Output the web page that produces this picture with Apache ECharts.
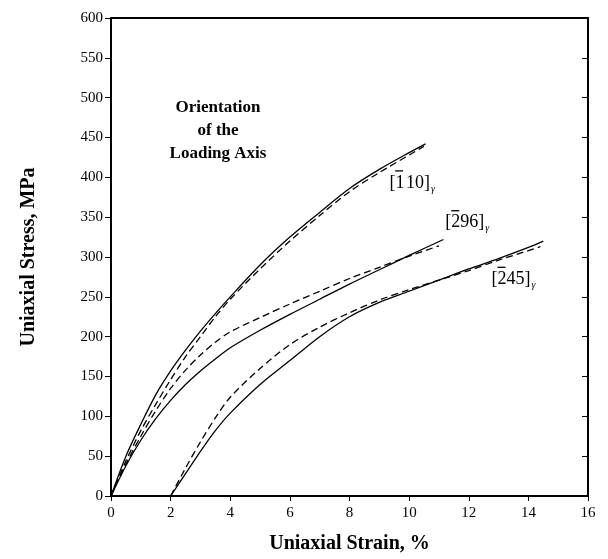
<!DOCTYPE html>
<html>
<head>
<meta charset="utf-8">
<script src="https://cdn.jsdelivr.net/npm/echarts@6/dist/echarts.min.js"></script>
<style>
  html, body { margin: 0; padding: 0; background: #fff; }
  #chart { width: 608px; height: 559px; }
</style>
</head>
<body>
<div id="chart"></div>
<script>
// strain (%) / stress (MPa) pairs
var s110Solid = [[0,0],[0.5,50],[1,90],[1.5,127],[2,157],[2.5,183],[3,207],[3.5,229],[4,250],[5,290],[6,325],[7,356],[8,386],[9,410],[10,431],[10.55,442]];
var s110Dash = [[0,0],[0.5,44],[1,82],[1.5,115],[2,146],[2.5,175],[3,200],[3.5,225],[4,247],[5,285],[6,320],[7,352],[8,382],[9,406],[10,428],[10.5,439]];
var s296Solid = [[0,0],[0.5,38],[1,70],[1.5,97],[2,120],[2.5,140],[3,157],[3.5,172],[4,186],[5,208],[6,228],[7,247],[8,266],[9,284],[10,302],[11.15,322]];
var s296Dash = [[0,0],[0.5,40],[1,75],[1.5,107],[2,135],[2.5,158],[3,177],[3.5,193],[4,206],[5,224],[6,241],[7,257],[8,273],[9,287],[10,301],[11,314]];
var s245Solid = [[2,0],[2.5,28],[3,56],[3.5,82],[4,104],[5,140],[6,170],[7,200],[8,225],[9,243],[10,257],[11,271],[12,285],[13,298],[14,312],[14.5,320]];
var s245Dash = [[2,0],[2.5,35],[3,68],[3.5,98],[4,124],[5,160],[6,190],[7,212],[8,230],[9,246],[10,259],[11,271],[12,283],[13,296],[14,308],[14.4,313]];

// orientation labels: overlined digit, rest
var orientLabels = [['1', '\u200a10]'], ['2', '96]'], ['2', '45]']];
var labelAt = [[10.1, 393], [11.95, 343], [13.5, 272]];

var serif = '"Liberation Serif", "DejaVu Serif", serif';

var myChart = echarts.init(document.getElementById('chart'));

function curve(data, dashed, idx) {
    var s = {
        type: 'line',
        data: data,
        smooth: 0.3,
        symbol: 'none',
        silent: true,
        lineStyle: { color: '#000', width: 1.3, type: dashed ? [7, 4] : 'solid' }
    };
    if (!dashed) {
        var lb = orientLabels[idx];
        s.markPoint = {
            symbol: 'circle',
            symbolSize: 0,
            silent: true,
            data: [{ coord: labelAt[idx] }],
            label: {
                show: true,
                position: 'inside',
                formatter: '{b|[' + lb[0] + lb[1] + '}{s|\u03b3}',
                rich: {
                    b: { fontFamily: serif, fontSize: 18, color: '#000' },
                    s: { fontFamily: serif, fontSize: 10, fontStyle: 'italic', color: '#000', padding: [12, 0, 0, 1] }
                }
            }
        };
    }
    return s;
}

myChart.setOption({
    animation: false,
    backgroundColor: '#fff',
    grid: { left: 111, right: 20, top: 18, bottom: 60 },
    xAxis: [{
        type: 'value',
        min: 0, max: 16, interval: 2,
        name: 'Uniaxial Strain, %',
        nameLocation: 'middle',
        nameGap: 38,
        nameTextStyle: { fontFamily: serif, fontSize: 20, fontWeight: 'bold', color: '#000' },
        axisLine: { onZero: false, lineStyle: { color: '#000', width: 2 } },
        axisTick: { length: 5, lineStyle: { color: '#000' } },
        axisLabel: { fontFamily: serif, fontSize: 15, color: '#000', margin: 10 },
        splitLine: { show: false }
    }, {
        type: 'value',
        position: 'top',
        min: 0, max: 16, interval: 2,
        axisLine: { show: true, onZero: false, lineStyle: { color: '#000', width: 2 } },
        axisTick: { show: false },
        axisLabel: { show: false },
        splitLine: { show: false }
    }],
    yAxis: [{
        type: 'value',
        min: 0, max: 600, interval: 50,
        name: 'Uniaxial Stress, MPa',
        nameLocation: 'middle',
        nameGap: 72,
        nameTextStyle: { fontFamily: serif, fontSize: 20, fontWeight: 'bold', color: '#000' },
        axisLine: { show: true, onZero: false, lineStyle: { color: '#000', width: 2 } },
        axisTick: { show: true, length: 6, lineStyle: { color: '#000' } },
        axisLabel: { fontFamily: serif, fontSize: 15, color: '#000', margin: 8 },
        splitLine: { show: false }
    }, {
        type: 'value',
        position: 'right',
        min: 0, max: 600, interval: 50,
        axisLine: { show: true, onZero: false, lineStyle: { color: '#000', width: 2 } },
        axisTick: { show: true, inside: true, length: 6, lineStyle: { color: '#000' } },
        axisLabel: { show: false },
        splitLine: { show: false }
    }],
    series: [
        curve(s110Solid, false, 0),
        curve(s110Dash, true, 0),
        curve(s296Solid, false, 1),
        curve(s296Dash, true, 1),
        curve(s245Solid, false, 2),
        curve(s245Dash, true, 2)
    ]
});

// caption text and overbars above the first digit of each orientation label
var graphics = [{
    id: 'orient',
    type: 'text',
    x: 218,
    y: 96,
    style: {
        text: 'Orientation\nof the\nLoading Axis',
        align: 'center',
        font: 'bold 17px ' + serif,
        lineHeight: 23,
        fill: '#000'
    }
}];
labelAt.forEach(function (c, i) {
    var p = myChart.convertToPixel({ xAxisIndex: 0, yAxisIndex: 0 }, c);
    var left = p[0] - (i === 0 ? 17 : 16);
    graphics.push({
        id: 'bar' + i,
        type: 'line',
        shape: { x1: left, y1: p[1] - 12, x2: left + 8, y2: p[1] - 12 },
        style: { stroke: '#000', lineWidth: 1.3 },
        silent: true
    });
});
myChart.setOption({ graphic: graphics });
</script>
</body>
</html>
